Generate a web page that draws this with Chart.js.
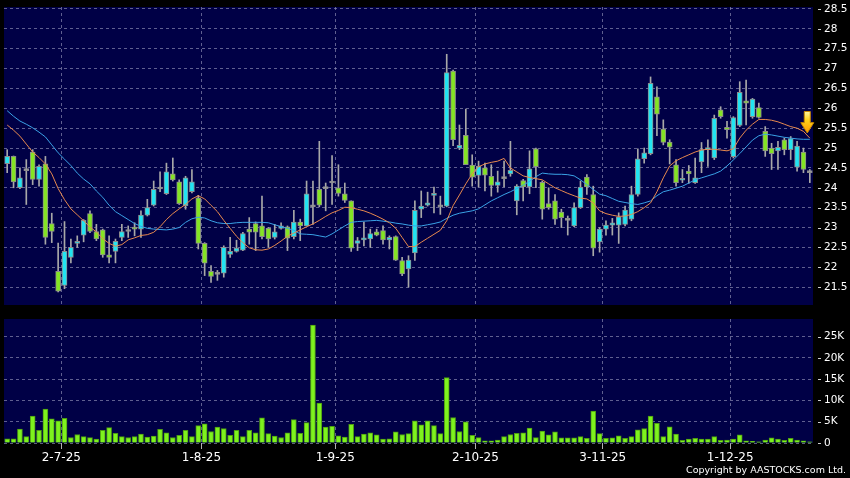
<!DOCTYPE html>
<html>
<head>
<meta charset="utf-8">
<script src="https://cdn.jsdelivr.net/npm/chart.js@4.4.1/dist/chart.umd.min.js"></script>
<style>
html, body { margin: 0; padding: 0; background: #000; }
#wrap { width: 850px; height: 478px; }
canvas { display: block; }
</style>
</head>
<body>
<div id="wrap">
  <canvas id="price" width="850" height="312"></canvas>
  <canvas id="vol" width="850" height="166"></canvas>
</div>
<script>
// trading days, d-m-yy
const dates = [
  '18-6-25','19-6-25','20-6-25','23-6-25','24-6-25','25-6-25','26-6-25','27-6-25','30-6-25',
  '2-7-25','3-7-25','4-7-25','7-7-25','8-7-25','9-7-25','10-7-25','11-7-25','14-7-25','15-7-25','16-7-25',
  '17-7-25','18-7-25','21-7-25','22-7-25','23-7-25','24-7-25','25-7-25','28-7-25','29-7-25','30-7-25','31-7-25',
  '1-8-25','4-8-25','5-8-25','6-8-25','7-8-25','8-8-25','11-8-25','12-8-25','13-8-25','14-8-25','15-8-25',
  '18-8-25','19-8-25','20-8-25','21-8-25','22-8-25','25-8-25','26-8-25','27-8-25','28-8-25','29-8-25',
  '1-9-25','2-9-25','3-9-25','4-9-25','5-9-25','8-9-25','9-9-25','10-9-25','11-9-25','12-9-25','15-9-25',
  '16-9-25','17-9-25','18-9-25','19-9-25','22-9-25','23-9-25','24-9-25','25-9-25','26-9-25','29-9-25','30-9-25',
  '2-10-25','3-10-25','6-10-25','8-10-25','9-10-25','10-10-25','13-10-25','14-10-25','15-10-25','16-10-25',
  '17-10-25','20-10-25','21-10-25','22-10-25','23-10-25','24-10-25','27-10-25','28-10-25','30-10-25','31-10-25',
  '3-11-25','4-11-25','5-11-25','6-11-25','7-11-25','10-11-25','11-11-25','12-11-25','13-11-25','14-11-25',
  '17-11-25','18-11-25','19-11-25','20-11-25','21-11-25','24-11-25','25-11-25','26-11-25','27-11-25','28-11-25',
  '1-12-25','2-12-25','3-12-25','4-12-25','5-12-25','8-12-25','9-12-25','10-12-25','11-12-25','12-12-25',
  '15-12-25','16-12-25','17-12-25'
];

const openP = [
  24.61,24.79,24.0,24.43,24.9,24.21,24.6,23.1,21.9,21.54,
  22.25,22.6,22.81,23.35,22.9,22.94,22.31,22.4,22.75,22.9,
  23.0,22.96,23.31,23.56,23.97,23.85,24.35,24.15,23.55,23.9,
  23.75,22.6,21.9,21.82,21.85,22.32,22.4,22.43,22.96,23.1,
  23.04,22.98,22.75,22.98,23.02,22.77,23.14,23.04,23.52,23.96,
  23.98,24.12,24.0,23.85,23.67,22.6,22.69,22.71,22.89,22.92,
  22.69,22.77,22.17,21.96,22.36,23.46,23.56,23.81,23.52,23.54,
  26.94,25.0,25.32,24.57,24.31,24.5,24.29,24.06,24.23,24.35,
  23.67,24.18,24.02,24.98,24.14,23.6,23.67,23.39,23.18,23.04,
  23.5,24.27,23.83,22.64,22.96,23.06,23.06,23.08,23.21,23.83,
  24.73,24.86,26.29,25.48,25.15,24.58,24.19,24.42,24.13,24.65,
  24.96,24.75,25.96,25.52,24.78,25.57,26.19,25.79,26.02,25.42,
  25.0,24.93,25.21,24.96,24.52,24.9,24.38
];
const highP = [
  24.96,24.8,24.5,24.71,24.96,24.58,24.79,23.36,22.61,23.15,
  22.71,22.79,23.2,23.42,23.08,22.96,22.79,22.71,23.08,23.04,
  23.12,23.42,23.71,24.17,24.4,24.62,24.75,24.2,24.29,24.46,
  23.81,22.62,22.04,21.92,22.54,22.75,22.68,22.88,23.25,23.14,
  23.79,23.0,23.08,23.12,23.04,23.43,23.21,24.17,24.17,25.17,
  24.12,24.81,24.58,24.12,23.67,22.75,23.14,22.96,22.96,23.04,
  22.79,22.79,22.25,22.29,23.67,23.92,23.89,24.02,23.79,27.36,
  26.96,25.58,25.98,24.83,24.67,24.62,24.58,24.42,24.67,25.17,
  24.08,24.21,24.93,25.0,24.17,24.0,23.83,23.46,23.29,23.62,
  24.17,24.33,24.04,23.0,23.17,23.23,23.37,23.54,24.04,24.98,
  25.0,26.79,26.54,25.71,25.21,24.71,24.46,24.56,24.75,25.14,
  25.21,25.83,26.04,25.67,25.79,26.67,26.71,26.25,26.13,25.54,
  25.12,25.17,25.25,25.29,25.17,25.0,24.46
];
const lowP = [
  24.38,24.0,23.98,23.58,24.08,24.04,22.58,22.62,21.38,21.46,
  22.11,22.5,22.64,22.87,22.67,22.25,22.11,22.11,22.67,22.75,
  22.79,22.75,23.29,23.54,23.9,23.83,24.17,23.58,23.46,23.87,
  22.46,21.79,21.62,21.67,21.75,22.25,22.38,22.42,22.58,22.42,
  22.71,22.5,22.71,22.96,22.42,22.71,22.67,23.04,23.08,23.52,
  23.42,23.58,23.79,23.63,22.4,22.42,22.54,22.5,22.79,22.58,
  22.46,22.17,21.79,21.5,22.17,23.25,23.54,23.37,23.33,23.52,
  25.06,24.96,24.58,24.04,24.02,23.92,23.79,23.89,24.02,24.29,
  23.32,23.67,23.85,24.0,23.21,23.46,23.08,23.0,22.81,23.02,
  23.48,23.83,22.29,22.38,22.81,22.81,22.6,23.04,23.17,23.79,
  24.62,24.83,25.31,25.08,24.6,24.04,24.13,24.11,24.11,24.38,
  24.54,24.71,25.75,25.25,24.75,25.54,25.58,25.75,25.75,24.79,
  24.46,24.46,24.83,24.71,24.42,24.38,24.13
];
const closeP = [
  24.79,24.15,24.25,24.43,24.21,24.54,22.75,22.9,21.4,22.4,
  22.5,22.64,23.18,22.9,22.71,22.31,22.25,22.65,22.9,22.9,
  22.96,23.31,23.5,23.96,23.97,24.4,24.2,23.6,24.25,24.15,
  22.6,22.1,21.77,21.82,22.5,22.4,22.48,22.85,22.88,22.88,
  22.77,22.71,22.89,23.04,22.73,23.14,23.04,23.85,23.52,23.56,
  23.98,24.12,23.86,23.68,22.48,22.67,22.73,22.85,22.81,22.69,
  22.75,22.18,21.83,22.18,23.43,23.54,23.62,23.85,23.52,26.9,
  25.21,25.07,24.58,24.27,24.54,24.32,24.06,24.15,24.23,24.44,
  24.04,24.02,24.48,24.53,23.46,23.5,23.21,23.25,23.18,23.5,
  24.02,24.02,22.48,22.96,23.06,23.12,23.27,23.44,23.83,24.73,
  24.88,26.63,25.85,25.14,25.02,24.13,24.23,24.35,24.25,24.96,
  24.99,25.75,25.79,25.46,25.77,26.4,26.13,26.23,25.77,24.93,
  24.86,25.02,24.96,25.24,25.05,24.46,24.38
];

// moving averages (orange 10 day, blue 20 day)
const ma10 = [
  25.58,25.45,25.3,25.1,24.9,24.76,24.6,24.35,23.98,23.7,
  23.47,23.32,23.17,23.01,22.89,22.72,22.6,22.53,22.57,22.69,
  22.74,22.8,22.82,22.88,23.02,23.2,23.35,23.47,23.58,23.72,
  23.8,23.72,23.56,23.4,23.18,22.98,22.78,22.62,22.49,22.44,
  22.43,22.46,22.55,22.66,22.78,22.86,22.94,23.02,23.09,23.18,
  23.28,23.37,23.43,23.51,23.5,23.46,23.42,23.36,23.29,23.21,
  23.12,22.98,22.75,22.52,22.52,22.63,22.73,22.83,22.93,23.17,
  23.55,23.82,24.1,24.35,24.53,24.6,24.64,24.67,24.74,24.5,
  24.4,24.3,24.26,24.23,24.2,24.1,24.0,23.93,23.86,23.8,
  23.74,23.72,23.62,23.42,23.35,23.31,23.28,23.29,23.33,23.4,
  23.5,23.62,23.9,24.25,24.55,24.68,24.76,24.83,24.9,24.95,
  24.97,24.97,24.95,24.93,24.98,25.25,25.45,25.6,25.72,25.72,
  25.7,25.66,25.6,25.54,25.5,25.42,25.25
];
const ma20 = [
  25.94,25.8,25.68,25.6,25.51,25.4,25.28,25.08,24.88,24.72,
  24.56,24.37,24.22,24.1,23.92,23.76,23.56,23.4,23.3,23.2,
  23.1,23.03,22.98,22.96,22.95,22.94,22.96,23.0,23.13,23.22,
  23.26,23.24,23.17,23.12,23.1,23.1,23.12,23.13,23.13,23.13,
  23.13,23.12,23.07,23.02,22.98,22.93,22.84,22.83,22.82,22.79,
  22.76,22.84,22.94,23.04,23.13,23.15,23.16,23.17,23.18,23.16,
  23.14,23.11,23.09,23.06,23.04,23.04,23.07,23.1,23.14,23.23,
  23.31,23.36,23.39,23.42,23.47,23.57,23.67,23.75,23.83,23.9,
  23.98,24.07,24.16,24.28,24.37,24.35,24.34,24.34,24.33,24.3,
  24.2,24.08,23.96,23.84,23.8,23.73,23.66,23.63,23.6,23.58,
  23.62,23.67,23.8,23.9,23.94,23.99,24.04,24.12,24.2,24.25,
  24.3,24.35,24.42,24.55,24.7,24.86,25.03,25.2,25.31,25.35,
  25.33,25.3,25.27,25.25,25.23,25.22,25.22
];

const volume = [
  1000,1000,3300,1500,6300,3000,8000,5700,5200,5800,
  1300,2000,1500,1250,900,3000,3600,2300,1500,1300,
  1500,2100,1400,1600,3200,2400,1300,1800,3000,1500,
  4100,4500,2700,3750,3400,1800,3000,1500,3000,2400,
  5900,2200,1600,1300,2400,5500,2300,4800,27700,9400,
  3750,3900,1700,1400,4400,1500,2100,2400,1900,900,
  1000,2600,2000,2200,5200,4300,5200,4100,2200,15400,
  6000,2700,5000,1800,1250,500,500,700,1500,2000,
  2300,2400,3500,1250,2800,1900,2600,1200,1200,1200,
  1500,1100,7500,2200,1100,1200,1700,1100,1500,3100,
  3400,6300,4600,1500,3800,2100,600,900,1100,900,
  900,1500,600,700,900,1900,500,400,300,700,
  1200,900,600,1100,700,500,300
];

const priceTicks = [21.5,22,22.5,23,23.5,24,24.5,25,25.5,26,26.5,27,27.5,28,28.5];
const volumeTicks = [0,5000,10000,15000,20000,25000];
const dateTicks = ['2-7-25','1-8-25','1-9-25','2-10-25','3-11-25','1-12-25'];

// signal arrow near the last bar
const arrowMark = { index: 125.6, top: 25.92, tip: 25.38 };

const UP = '#22e4f2', DOWN = '#84e424', DOJI = '#a0a0a0';
const GRID = 'rgba(135,135,175,0.7)';
const NAVY = '#000046';
Chart.defaults.font.family = 'DejaVu Sans';
Chart.defaults.color = '#ffffff';

const idx = dates.map((d, i) => i);
const monthLines = dateTicks.map(t => dates.indexOf(t) - 0.5);

const wickData = idx.map(i => ({ x: i, y: [lowP[i], highP[i]] }));
const bodyData = idx.map(i => ({ x: i, y: [openP[i], closeP[i]] }));
const bodyColors = idx.map(i => closeP[i] > openP[i] ? UP : (closeP[i] < openP[i] ? DOWN : DOJI));

const panelBg = {
  id: 'panelBg',
  beforeDraw(chart) {
    const { ctx, chartArea: a } = chart;
    ctx.save();
    ctx.fillStyle = '#000';
    ctx.fillRect(0, 0, chart.width, chart.height);
    ctx.fillStyle = NAVY;
    ctx.fillRect(a.left, a.top, a.right - a.left, a.bottom - a.top);
    ctx.restore();
  }
};

const tickDash = {
  id: 'tickDash',
  afterDraw(chart) {
    const { ctx, chartArea: a } = chart;
    const ys = chart.scales.y;
    ctx.save();
    ctx.strokeStyle = '#cfcfcf';
    ctx.lineWidth = 1;
    ys.ticks.forEach(t => {
      const py = Math.round(ys.getPixelForValue(t.value)) + 0.5;
      ctx.beginPath();
      ctx.moveTo(a.right + 5, py);
      ctx.lineTo(a.right + 8, py);
      ctx.stroke();
    });
    ctx.restore();
  }
};

const arrowPlugin = {
  id: 'arrow',
  afterDatasetsDraw(chart) {
    const { ctx } = chart;
    const xs = chart.scales.x, ys = chart.scales.y;
    const cx = xs.getPixelForValue(arrowMark.index);
    const top = ys.getPixelForValue(arrowMark.top);
    const tip = ys.getPixelForValue(arrowMark.tip);
    const neck = top + (tip - top) * 0.52;
    const g = ctx.createLinearGradient(0, top, 0, tip);
    g.addColorStop(0, '#fff6a0');
    g.addColorStop(0.4, '#ffd21a');
    g.addColorStop(1, '#ff9a00');
    ctx.save();
    ctx.beginPath();
    ctx.moveTo(cx - 3, top);
    ctx.lineTo(cx + 3, top);
    ctx.lineTo(cx + 3, neck);
    ctx.lineTo(cx + 6.5, neck);
    ctx.lineTo(cx, tip);
    ctx.lineTo(cx - 6.5, neck);
    ctx.lineTo(cx - 3, neck);
    ctx.closePath();
    ctx.fillStyle = g;
    ctx.fill();
    ctx.strokeStyle = '#c98a00';
    ctx.lineWidth = 1;
    ctx.stroke();
    ctx.restore();
  }
};

const copyright = {
  id: 'copyright',
  afterDraw(chart) {
    const { ctx } = chart;
    ctx.save();
    ctx.font = '9.5px "DejaVu Sans"';
    ctx.fillStyle = '#ffffff';
    ctx.textAlign = 'right';
    ctx.textBaseline = 'middle';
    ctx.fillText('Copyright by AASTOCKS.com Ltd.', 846, chart.height - 7);
    ctx.restore();
  }
};

function monthGrid(scale) {
  scale.ticks = monthLines.map(v => ({ value: v }));
}
// stop edge labels from shrinking the plot area
function noPad(s) {
  s.paddingTop = 0; s.paddingBottom = 0; s.paddingLeft = 0; s.paddingRight = 0;
}

new Chart(document.getElementById('price'), {
  type: 'bar',
  data: {
    datasets: [
      { type: 'line', data: idx.map(i => ({ x: i, y: ma10[i] })), borderColor: '#e8894e', borderWidth: 1, pointRadius: 0, order: 0 },
      { type: 'line', data: idx.map(i => ({ x: i, y: ma20[i] })), borderColor: '#3aa2e6', borderWidth: 1, pointRadius: 0, order: 1 },
      { data: bodyData, backgroundColor: bodyColors, borderColor: '#8c8c8c', borderWidth: 1, borderSkipped: false,
        barThickness: 5, minBarLength: 2, grouped: false, order: 2 },
      { data: wickData, backgroundColor: '#a8a8a8', borderWidth: 0, barThickness: 1, grouped: false, order: 3 }
    ]
  },
  options: {
    responsive: false,
    animation: false,
    layout: { padding: { left: 4, top: 7, right: 0, bottom: 7 } },
    plugins: { legend: { display: false }, tooltip: { enabled: false } },
    scales: {
      x: {
        type: 'linear', min: -0.5, max: dates.length - 0.5, offset: false,
        afterBuildTicks: monthGrid,
        afterFit: s => { s.height = 0; noPad(s); },
        ticks: { display: false },
        grid: { color: GRID, drawTicks: false, offset: false },
        border: { display: false, dash: [3, 3] }
      },
      y: {
        position: 'right', min: 21.05, max: 28.55,
        afterBuildTicks: s => { s.ticks = priceTicks.map(v => ({ value: v })); },
        afterFit: s => { s.width = 37; noPad(s); },
        ticks: { padding: 11, font: { size: 10.5 }, color: '#ffffff', callback: v => String(v) },
        grid: { color: GRID, drawTicks: false },
        border: { display: false, dash: [3, 3] }
      }
    }
  },
  plugins: [panelBg, tickDash, arrowPlugin]
});

new Chart(document.getElementById('vol'), {
  type: 'bar',
  data: {
    datasets: [
      { data: idx.map(i => ({ x: i, y: volume[i] })), backgroundColor: '#7ef21e', borderColor: '#4d9c12',
        borderWidth: 1, borderSkipped: 'start', barThickness: 5 }
    ]
  },
  options: {
    responsive: false,
    animation: false,
    layout: { padding: { left: 4, top: 7, right: 0, bottom: 0 } },
    plugins: { legend: { display: false }, tooltip: { enabled: false } },
    scales: {
      x: {
        type: 'linear', min: -0.5, max: dates.length - 0.5, offset: false,
        afterBuildTicks: monthGrid,
        afterFit: s => { s.height = 35; noPad(s); },
        ticks: {
          padding: 2, font: { size: 12 }, color: '#ffffff', maxRotation: 0, autoSkip: false,
          callback: (v, k) => dateTicks[k]
        },
        grid: { color: GRID, drawTicks: true, tickLength: 6, tickColor: '#b0b0b0', tickBorderDash: [], offset: false },
        border: { display: false, dash: [3, 3] }
      },
      y: {
        position: 'right', min: 0, max: 29150,
        afterBuildTicks: s => { s.ticks = volumeTicks.map(v => ({ value: v })); },
        afterFit: s => { s.width = 37; noPad(s); },
        ticks: { padding: 11, font: { size: 10.5 }, color: '#ffffff', callback: v => v === 0 ? '0' : (v / 1000) + 'K' },
        grid: { color: GRID, drawTicks: false },
        border: { display: false, dash: [3, 3] }
      }
    }
  },
  plugins: [panelBg, tickDash, copyright]
});
</script>
</body>
</html>
